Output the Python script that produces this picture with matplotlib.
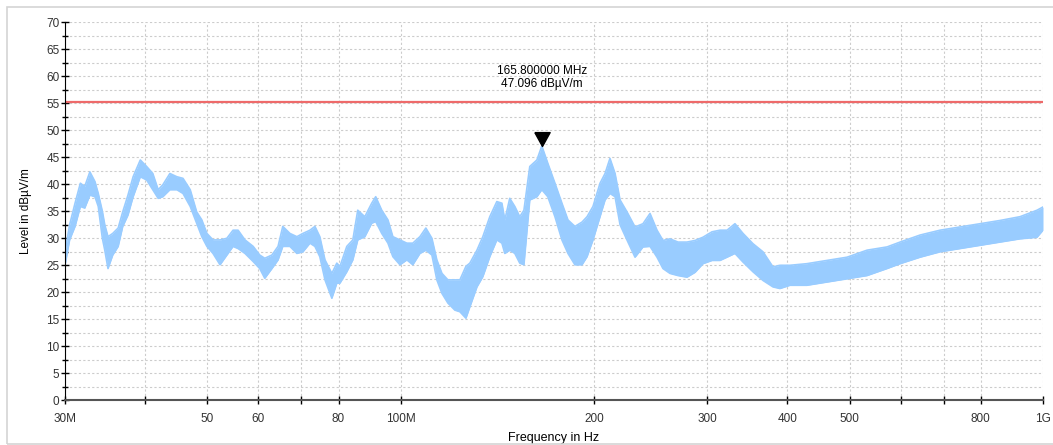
import matplotlib
matplotlib.use("Agg")
import matplotlib.pyplot as plt
from matplotlib.patches import Rectangle
from matplotlib.ticker import FixedLocator, FixedFormatter, MultipleLocator

plt.rcParams['font.family'] = ['Liberation Sans', 'DejaVu Sans']

# frequency in MHz, trace envelope (lower / upper) in dBµV/m
freq_mhz = [30.0, 30.5, 31.1, 31.7, 32.2, 32.8, 33.4, 33.8, 34.3, 34.6, 35.0, 35.6, 36.3, 36.9,
            37.6, 38.3, 39.3, 40.2, 41.1, 41.9, 42.6, 43.7, 44.8, 45.8, 47.0, 48.1, 49.0, 49.9,
            51.0, 52.3, 53.6, 54.8, 55.8, 57.2, 58.9, 60.3, 61.4, 63.0, 64.4, 65.5, 67.2, 68.9,
            70.4, 72.2, 73.5, 74.8, 76.2, 78.1, 79.5, 80.4, 82.4, 84.2, 85.7, 87.9, 90.1, 91.4,
            93.4, 95.5, 97.2, 99.7, 102.2, 104.4, 107.1, 109.4, 111.8, 113.8, 115.9, 118.4, 121.4,
            123.6, 126.3, 128.1, 131.4, 134.2, 137.6, 141.1, 143.7, 145.2, 147.8, 150.5, 153.2,
            155.5, 158.8, 162.9, 165.8, 169.4, 173.8, 178.2, 182.1, 186.7, 191.5, 195.0, 199.2,
            204.3, 208.0, 211.7, 215.6, 219.5, 225.0, 231.6, 238.3, 244.4, 250.6, 256.0, 262.5,
            270.2, 279.0, 287.2, 295.5, 305.2, 314.1, 322.1, 331.4, 341.1, 353.5, 366.4, 379.8,
            389.4, 403.6, 428.9, 461.1, 495.3, 532.1, 571.7, 599.0, 643.5, 691.3, 742.7, 797.9,
            857.2, 920.9, 978.8, 1000.0]
level_lo = [25.0, 29.7, 32.2, 35.9, 35.6, 38.0, 37.7, 35.9, 30.0, 27.8, 24.4, 26.9, 28.5, 32.2,
            34.3, 37.7, 41.4, 40.8, 39.0, 37.4, 37.7, 39.0, 39.0, 38.3, 35.9, 32.8, 30.3, 28.5,
            27.2, 25.1, 26.9, 28.5, 28.1, 27.2, 25.7, 24.4, 22.6, 24.4, 26.0, 28.5, 28.5, 27.2,
            27.5, 29.1, 28.5, 26.6, 22.3, 18.9, 21.7, 21.7, 23.8, 26.0, 29.7, 30.3, 32.8, 33.1,
            30.9, 29.1, 26.6, 25.1, 26.0, 25.1, 27.2, 27.8, 26.9, 22.3, 19.8, 18.0, 16.7,
            16.4, 15.2, 17.3, 21.0, 22.9, 26.6, 29.7, 29.1, 27.2, 27.8, 27.2, 25.4,
            25.1, 37.1, 37.7, 39.0, 37.7, 34.0, 29.7, 27.2, 25.1, 25.1, 26.6, 29.7,
            34.0, 37.1, 38.3, 37.7, 32.5, 29.7, 26.5, 28.4, 28.5, 26.5, 24.4, 23.5,
            23.1, 22.8, 23.7, 25.3, 25.9, 25.9, 26.5, 27.2, 25.6, 23.8, 22.2, 21.0,
            20.7, 21.3, 21.3, 21.9, 22.5, 23.1, 24.4, 25.3, 26.5, 27.5, 28.1, 28.7,
            29.3, 29.9, 30.2, 31.5]
level_hi = [27.5, 32.5, 36.5, 40.2, 39.6, 42.3, 40.5, 38.3, 35.0, 32.5, 30.3, 30.9, 31.9, 34.9,
            38.0, 41.4, 44.5, 43.3, 42.0, 39.0, 39.9, 42.0, 41.4, 41.1, 39.0, 34.9, 33.4, 30.9,
            29.7, 29.7, 30.0, 31.5, 31.5, 29.7, 28.5, 26.9, 26.3, 26.9, 28.5, 32.2, 30.9, 30.3,
            30.9, 31.5, 32.2, 30.3, 26.0, 23.5, 25.4, 24.8, 28.5, 29.7, 35.2, 34.0, 36.5, 37.7,
            35.2, 33.4, 30.3, 29.7, 29.1, 29.1, 30.3, 31.9, 30.0, 26.0, 23.5, 22.3, 22.3,
            22.3, 24.8, 25.4, 27.8, 30.3, 34.0, 36.8, 36.5, 33.4, 37.4, 35.9, 34.0,
            35.2, 43.3, 44.5, 47.1, 43.9, 40.2, 36.5, 33.4, 32.2, 33.0, 34.0, 35.9,
            40.2, 42.0, 44.8, 42.0, 37.1, 34.9, 32.1, 32.7, 34.6, 31.5, 29.6, 29.9,
            29.3, 29.3, 29.6, 30.2, 31.2, 31.5, 31.5, 32.7, 30.9, 29.0, 27.5, 24.7,
            25.0, 25.0, 25.3, 25.9, 26.5, 27.8, 28.4, 29.3, 30.6, 31.5, 32.1, 32.7,
            33.3, 34.0, 35.2, 35.8]

limit_db = 55.3
marker_mhz = 165.8
marker_db = 47.096

tick_mhz = [30, 40, 50, 60, 70, 80, 100, 200, 300, 400, 500, 600, 700, 800, 1000]
tick_text = ['30M', '', '50', '60', '', '80', '100M', '200', '300', '400', '500', '', '', '800', '1G']

fig = plt.figure(figsize=(10.53, 4.45), dpi=100)
ax = fig.add_axes([65 / 1053, 1 - 400.3 / 445, 978 / 1053, 378 / 445])

# light frame around the whole picture
fig.patches.append(Rectangle((7 / 1053, 1 / 445), 1.1, 437 / 445, transform=fig.transFigure,
                             fill=False, edgecolor='#d4d4d4', linewidth=1.2))

f_hz = [f * 1e6 for f in freq_mhz]
ax.fill_between(f_hz, level_lo, level_hi, color='#99ccff', linewidth=0)
ax.plot(f_hz, level_hi, color='#99ccff', linewidth=1.2)
ax.plot(f_hz, level_lo, color='#99ccff', linewidth=1.2)

ax.axhline(limit_db, color='#ee6a6a', linewidth=1.6)

tri = [(-1.1, 2.0), (1.1, 2.0), (0.0, 0.0), (-1.1, 2.0)]
ax.plot([marker_mhz * 1e6], [marker_db], marker=tri, markersize=20, color='black', linestyle='none')
ax.text(marker_mhz * 1e6, 60.9, f'{marker_mhz:.6f} MHz', ha='center', va='center', fontsize=8.5)
ax.text(marker_mhz * 1e6, 58.5, f'{marker_db:.3f} dBµV/m', ha='center', va='center', fontsize=8.5)

ax.set_xscale('log')
ax.set_xlim(30e6, 1e9)
ax.set_ylim(0, 70)
ax.xaxis.set_major_locator(FixedLocator([t * 1e6 for t in tick_mhz]))
ax.xaxis.set_major_formatter(FixedFormatter(tick_text))
ax.xaxis.set_minor_locator(FixedLocator([]))
ax.yaxis.set_major_locator(MultipleLocator(5))
ax.yaxis.set_minor_locator(MultipleLocator(2.5))

ax.grid(True, which='both', axis='y', color='#cccccc', linestyle=(0, (2, 2)), linewidth=0.8)
ax.grid(True, which='major', axis='x', color='#cccccc', linestyle=(0, (2, 2)), linewidth=0.8)
ax.set_axisbelow(True)

for s in ['top', 'right']:
    ax.spines[s].set_visible(False)
ax.spines['left'].set_color('black')
ax.spines['bottom'].set_color('#555555')
ax.spines['bottom'].set_linewidth(1.5)

ax.tick_params(axis='y', which='major', direction='inout', length=6, width=1, labelsize=8.5,
               colors='black', labelcolor='#333333', pad=1)
ax.tick_params(axis='y', which='minor', direction='inout', length=5, width=1, colors='black')
ax.tick_params(axis='x', which='major', direction='inout', length=6, width=1, labelsize=8.5,
               colors='black', labelcolor='#333333', pad=6)

ax.set_ylabel('Level in dBµV/m', fontsize=8.5, labelpad=10)
ax.set_xlabel('Frequency in Hz', fontsize=9, labelpad=5)

fig.savefig('out.png', dpi=100)
